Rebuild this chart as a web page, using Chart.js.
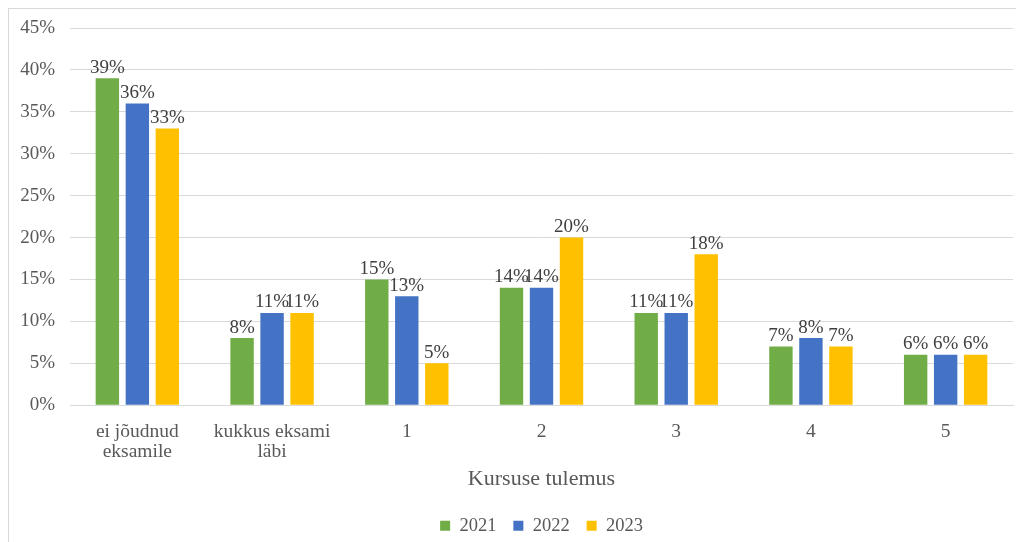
<!DOCTYPE html>
<html>
<head>
<meta charset="utf-8">
<script src="https://cdn.jsdelivr.net/npm/chart.js@4.4.1/dist/chart.umd.min.js"></script>
<style>
  html, body { margin: 0; padding: 0; background: #fff; }
  #wrap { width: 1016px; height: 542px; }
</style>
</head>
<body>
<div id="wrap"><canvas id="chart"></canvas></div>
<script>
const categories = [
  ['ei jõudnud', 'eksamile'],
  ['kukkus eksami', 'läbi'],
  '1', '2', '3', '4', '5'
];
const years = ['2021', '2022', '2023'];
const values2021 = [39, 8, 15, 14, 11, 7, 6];
const values2022 = [36, 11, 13, 14, 11, 8, 6];
const values2023 = [33, 11, 5, 20, 18, 7, 6];
const colors = ['#70AD47', '#4472C4', '#FFC000'];

const FONT = "'Liberation Serif', 'Times New Roman', serif";
const TEXT = '#595959';

// white background plus the frame line (only top and left fall inside the canvas)
const frame = {
  id: 'frame',
  beforeDraw(chart) {
    const { ctx, width, height } = chart;
    ctx.save();
    ctx.fillStyle = '#fff';
    ctx.fillRect(0, 0, width, height);
    ctx.strokeStyle = '#d9d9d9';
    ctx.lineWidth = 1;
    ctx.strokeRect(8.5, 8.5, width, height);
    ctx.restore();
  }
};

// center the legend under the plot area instead of the whole canvas
const legendUnderPlot = {
  id: 'legendUnderPlot',
  afterLayout(chart) {
    const lg = chart.legend;
    if (!lg) return;
    lg.left = chart.chartArea.left;
    lg.right = chart.chartArea.right;
  }
};

// percentage label above each bar
const barValues = {
  id: 'barValues',
  afterDatasetsDraw(chart) {
    const { ctx } = chart;
    ctx.save();
    ctx.font = '19px ' + FONT;
    ctx.fillStyle = '#404040';
    ctx.textAlign = 'center';
    ctx.textBaseline = 'bottom';
    chart.data.datasets.forEach((ds, i) => {
      chart.getDatasetMeta(i).data.forEach((bar, j) => {
        ctx.fillText(ds.data[j] + '%', bar.x, bar.y - 1);
      });
    });
    ctx.restore();
  }
};

new Chart(document.getElementById('chart'), {
  type: 'bar',
  data: {
    labels: categories,
    datasets: [values2021, values2022, values2023].map((d, i) => ({
      label: years[i],
      data: d,
      backgroundColor: colors[i],
      categoryPercentage: 0.668,
      barPercentage: 0.78
    }))
  },
  options: {
    responsive: true,
    maintainAspectRatio: false,
    animation: false,
    layout: { padding: { top: 28, right: 3, left: 0, bottom: -3 } },
    plugins: {
      tooltip: { enabled: false },
      legend: {
        position: 'bottom',
        labels: {
          boxWidth: 10,
          boxHeight: 10,
          padding: 17,
          color: TEXT,
          font: { family: FONT, size: 18.5 }
        }
      }
    },
    scales: {
      y: {
        min: 0,
        max: 45,
        ticks: {
          stepSize: 5,
          padding: 15,
          color: TEXT,
          font: { family: FONT, size: 19 },
          callback: v => v + '%'
        },
        grid: { color: '#d9d9d9', drawTicks: false },
        border: { display: false },
        afterFit(scale) { scale.width = 70; }
      },
      x: {
        ticks: {
          padding: 8,
          color: TEXT,
          font: { family: FONT, size: 19.5, lineHeight: 1.05 },
          maxRotation: 0
        },
        grid: { display: false },
        border: { color: '#d9d9d9' },
        title: {
          display: true,
          text: 'Kursuse tulemus',
          color: TEXT,
          font: { family: FONT, size: 22 },
          padding: { top: -4, bottom: 7 }
        }
      }
    }
  },
  plugins: [frame, legendUnderPlot, barValues]
});
</script>
</body>
</html>
